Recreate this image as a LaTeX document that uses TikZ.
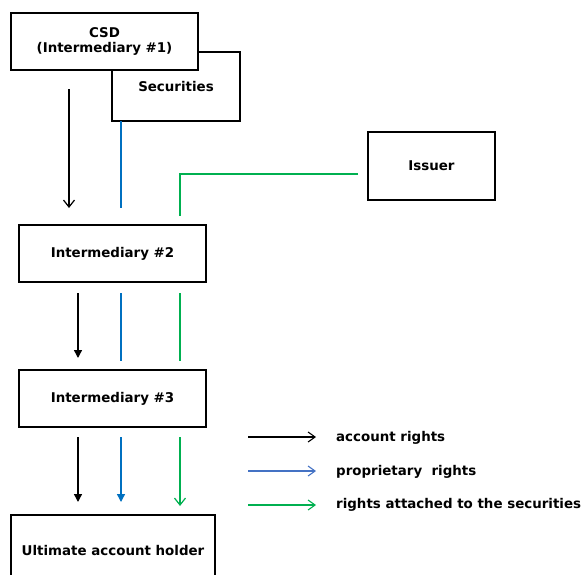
\documentclass[tikz,border=0pt]{standalone}
\usepackage{fontspec}
\setmainfont{DejaVu Sans}
\usetikzlibrary{arrows.meta}
\definecolor{propblue}{HTML}{0070C0}
\definecolor{legblue}{HTML}{4472C4}
\definecolor{rightgreen}{HTML}{00B050}
\tikzset{
  boxnode/.style={draw=black, line width=2pt, fill=white, inner sep=0pt, font=\bfseries\fontsize{13.4}{15}\selectfont, align=center},
  conn/.style={line width=1.3pt},
  openhead/.style={-{Straight Barb[length=7pt,width=11pt,line width=1.2pt]}},
  fillhead/.style={-{Triangle[length=8pt,width=8pt]}},
  legtext/.style={anchor=west, inner sep=0pt, font=\bfseries\fontsize{13.4}{15}\selectfont}
}
\begin{document}
\begin{tikzpicture}[x=1pt,y=-1pt]
\useasboundingbox (0,0) rectangle (582,574);
% boxes
\node[boxnode, minimum width=128pt, minimum height=69pt] (sec) at (176,86.5) {Securities};
\node[boxnode, minimum width=187pt, minimum height=57pt] (csd) at (104.5,41.5) {CSD\\(Intermediary \#1)};
\node[boxnode, minimum width=127pt, minimum height=68pt] (issuer) at (431.5,166) {Issuer};
\node[boxnode, minimum width=187pt, minimum height=57pt] (int2) at (112.5,253.5) {Intermediary \#2};
\node[boxnode, minimum width=187pt, minimum height=57pt] (int3) at (112.5,398.5) {Intermediary \#3};
\node[boxnode, minimum width=204pt, minimum height=70pt] (uah) at (113,550) {Ultimate account holder};
% coordinates
\coordinate (a1s) at (69,89);  \coordinate (a1e) at (69,208);
\coordinate (b1s) at (121,121); \coordinate (b1e) at (121,208);
\coordinate (g1s) at (358,174); \coordinate (g1e) at (180,216);
\coordinate (a2s) at (78,293);  \coordinate (a2e) at (78,358);
\coordinate (b2s) at (121,293); \coordinate (b2e) at (121,361);
\coordinate (g2s) at (180,293); \coordinate (g2e) at (180,361);
\coordinate (a3s) at (78,437);  \coordinate (a3e) at (78,502);
\coordinate (b3s) at (121,437); \coordinate (b3e) at (121,502);
\coordinate (g3s) at (180,437); \coordinate (g3e) at (180,506);
% connectors
\draw[conn, openhead] (a1s) -- (a1e);
\draw[conn, propblue] (b1s) -- (b1e);
\draw[conn, rightgreen] (g1s) -| (g1e);
\draw[conn, fillhead] (a2s) -- (a2e);
\draw[conn, propblue] (b2s) -- (b2e);
\draw[conn, rightgreen] (g2s) -- (g2e);
\draw[conn, fillhead] (a3s) -- (a3e);
\draw[conn, propblue, fillhead] (b3s) -- (b3e);
\draw[conn, rightgreen, openhead] (g3s) -- (g3e);
% legend
\coordinate (l1s) at (248,437); \coordinate (l1e) at (316,437);
\coordinate (l2s) at (248,471); \coordinate (l2e) at (316,471);
\coordinate (l3s) at (248,505); \coordinate (l3e) at (316,505);
\draw[conn, -{Straight Barb[length=7pt,width=10pt,line width=1.1pt]}] (l1s) -- (l1e);
\draw[conn, legblue, -{Straight Barb[length=7pt,width=10pt,line width=1.1pt]}] (l2s) -- (l2e);
\draw[conn, rightgreen, -{Straight Barb[length=7pt,width=10pt,line width=1.1pt]}] (l3s) -- (l3e);
\node[legtext] (t1) at (336,438) {account rights};
\node[legtext] (t2) at (336,472) {proprietary\ \ rights};
\node[legtext] (t3) at (336,505) {rights attached to the securities};
\end{tikzpicture}
\end{document}
